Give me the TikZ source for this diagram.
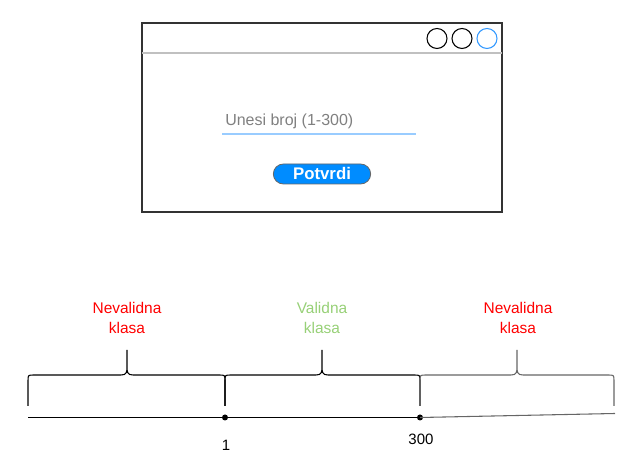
\documentclass[tikz,border=0pt]{standalone}
\usepackage{fontspec}
\setmainfont{Liberation Sans}
\definecolor{vred}{HTML}{FF0000}
\definecolor{vgreen}{HTML}{97D077}
\definecolor{hint}{HTML}{808080}
\definecolor{uline}{HTML}{99CCFF}
\definecolor{btn}{HTML}{008CFF}
\definecolor{btnborder}{HTML}{666666}
\definecolor{bluec}{HTML}{3399FF}
\definecolor{sep}{HTML}{C0C0C0}
\definecolor{wborder}{HTML}{333333}
\definecolor{grayline}{HTML}{666666}
\begin{document}
\begin{tikzpicture}[x=0.75pt,y=-0.75pt,
  lbl/.style={align=center,font=\fontsize{11.6}{15}\selectfont,inner sep=0pt},
  num/.style={font=\fontsize{11.25}{13}\selectfont,inner sep=0pt},
  wincircle/.style={circle,draw=black,line width=0.8pt,minimum size=15pt,inner sep=0pt},
  dot/.style={circle,fill=black,minimum size=4.5pt,inner sep=0pt},
  bracepath/.style={line width=0.8pt}]
\useasboundingbox (0,0) rectangle (644,473);
% window
\node[draw=wborder,line width=0.9pt,minimum width=270pt,minimum height=141.75pt,inner sep=0pt] (win) at (322,117.5) {};
\coordinate (sepL) at (142,53);
\coordinate (sepR) at (502,53);
\draw[sep,line width=0.8pt] (sepL) -- (sepR);
\node[wincircle] (c1) at (437,38.5) {};
\node[wincircle] (c2) at (462,38.5) {};
\node[wincircle,draw=bluec] (c3) at (487,38.5) {};
\node[anchor=base west,text=hint,font=\fontsize{12}{15}\selectfont,inner sep=0pt] (inp) at (225,126) {Unesi broj (1-300)};
\coordinate (ulL) at (222,134.5);
\coordinate (ulR) at (416,134.5);
\draw[uline,line width=1.5pt] (ulL) -- (ulR);
\node[rounded corners=7.5pt,fill=btn,draw=btnborder,line width=0.6pt,minimum width=73pt,minimum height=15pt,inner sep=0pt,text=white,font=\fontsize{12.6}{14}\selectfont\bfseries] (btn) at (322,174) {Potvrdi};
% labels
\node[lbl,text=vred] (l1) at (127,318) {Nevalidna\\klasa};
\node[lbl,text=vgreen] (l2) at (322,318) {Validna\\klasa};
\node[lbl,text=vred] (l3) at (518,318) {Nevalidna\\klasa};
% braces
\draw[bracepath] (28,406) -- (28,381) .. controls (28,375) .. (34,375) -- (121,375) .. controls (127,375) and (127,372) .. (127,366) -- (127,350)
  (127,366) .. controls (127,372) and (127,375) .. (133,375) -- (219,375) .. controls (225,375) .. (225,381) -- (225,406);
\draw[bracepath] (225,406) -- (225,381) .. controls (225,375) .. (231,375) -- (316,375) .. controls (322,375) and (322,372) .. (322,366) -- (322,350)
  (322,366) .. controls (322,372) and (322,375) .. (328,375) -- (414,375) .. controls (420,375) .. (420,381) -- (420,406);
\draw[bracepath,grayline] (420,406) -- (420,381) .. controls (420,375) .. (426,375) -- (511,375) .. controls (517,375) and (517,372) .. (517,366) -- (517,350)
  (517,366) .. controls (517,372) and (517,375) .. (523,375) -- (608,375) .. controls (614,375) .. (614,381) -- (614,406);
% axis
\coordinate (a0) at (28,417.5);
\node[dot] (p1) at (225,417.5) {};
\node[dot] (p2) at (420,417.5) {};
\coordinate (a1) at (615,413.5);
\draw[line width=0.8pt] (a0) -- (p1) -- (p2);
\draw[line width=0.8pt,grayline] (p2.center) -- (a1);
\node[num] (n1) at (226,445) {1};
\node[num] (n300) at (421,439) {300};
\end{tikzpicture}
\end{document}
